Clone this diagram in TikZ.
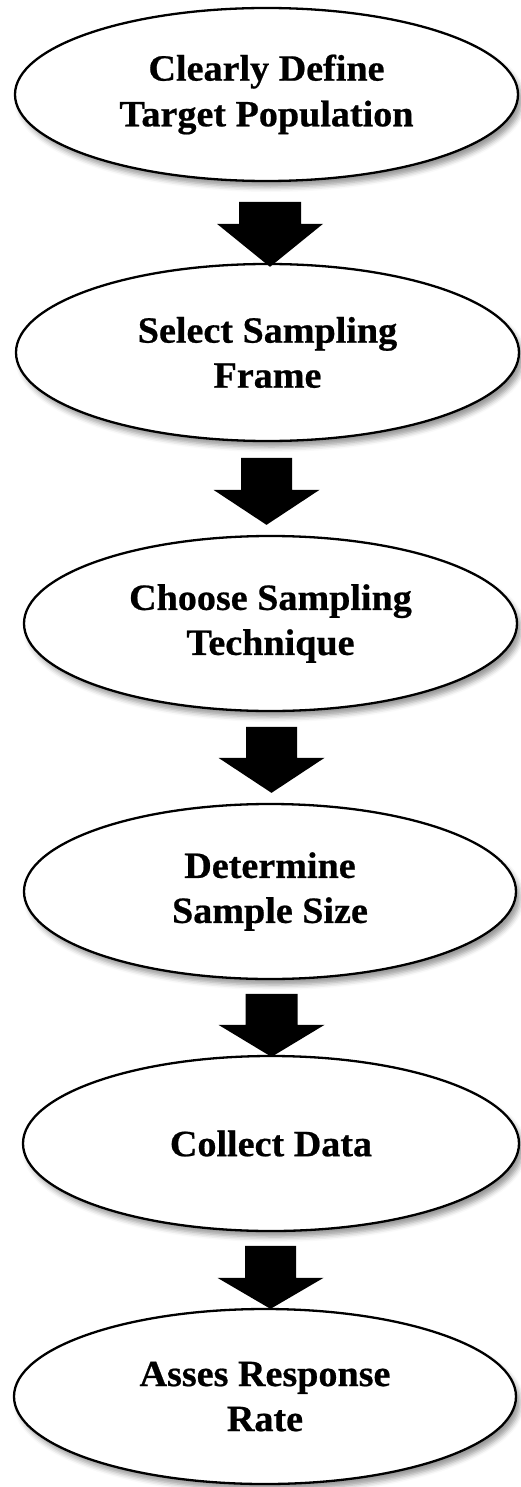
\documentclass[tikz,border=0pt]{standalone}
\usepackage{fontspec}
\setmainfont{Liberation Serif}[FakeStretch=1.03, BoldFeatures={FakeBold=0.6}]
\usetikzlibrary{shapes.geometric,shadows.blur,calc}

\tikzset{
  stage/.style={ellipse, draw=black, line width=2.3pt, fill=white,
    align=center, inner sep=0pt,
    font=\bfseries\fontsize{37}{45}\selectfont,
    blur shadow={shadow xshift=4pt, shadow yshift=-6pt,
      shadow blur radius=5pt, shadow opacity=40}},
  flowarrow/.style={fill=black, draw=none}
}

% block arrow: #1 tip point, #2 shaft half width, #3 head length, #4 total length
\newcommand\blockarrow[4]{%
  \fill[flowarrow] (#1) -- ++(-53,-#3) -- ++(53-#2,0) -- ++(0,-#4+#3)
    -- ++(2*#2,0) -- ++(0,#4-#3) -- ++(53-#2,0) -- cycle;}

\begin{document}
\begin{tikzpicture}[x=1pt, y=-1pt]
\useasboundingbox (0,0) rectangle (521,1487);

\node[stage, minimum width=503, minimum height=173] (define) at (266.5,94.5)
  {\raisebox{-4pt}{\shortstack{Clearly Define\\[9pt]Target Population}}};
\node[stage, minimum width=503, minimum height=177] (frame) at (267.5,352.5)
  {Select Sampling\\Frame};
\node[stage, minimum width=493, minimum height=175] (technique) at (270.5,623.5)
  {Choose Sampling\\Technique};
\node[stage, minimum width=492, minimum height=175] (size) at (270,891.5)
  {Determine\\Sample Size};
\node[stage, minimum width=496, minimum height=175] (collect) at (271,1143.5)
  {Collect Data};
\node[stage, minimum width=502, minimum height=175] (assess) at (265,1396.5)
  {Asses Response\\Rate};

% tips of the arrows, on the top of each following stage
\coordinate (t1) at ($(frame.north)+(2.5,4)$);
\coordinate (t2) at ($(technique.north)+(-4,-10)$);
\coordinate (t3) at ($(size.north)+(1.5,-10)$);
\coordinate (t4) at ($(collect.north)+(0.5,2)$);
\coordinate (t5) at ($(assess.north)+(5.5,1)$);

\blockarrow{t1}{31}{43}{65}
\blockarrow{t2}{25.5}{35}{67}
\blockarrow{t3}{25.5}{35}{66}
\blockarrow{t4}{26}{32}{63}
\blockarrow{t5}{25.5}{31}{63}
\end{tikzpicture}
\end{document}
